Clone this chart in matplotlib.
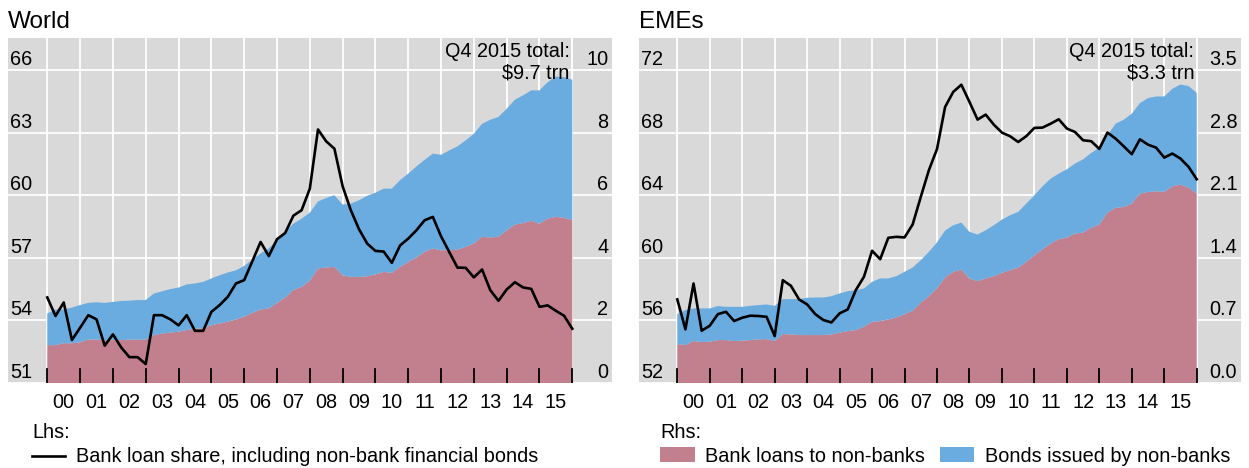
import numpy as np
import pandas as pd
import matplotlib
matplotlib.use('Agg')
import matplotlib.pyplot as plt
from matplotlib.lines import Line2D
from matplotlib.patches import Rectangle

plt.rcParams['font.family'] = ['Liberation Sans', 'DejaVu Sans']

# ---------------- data ----------------
quarters = pd.period_range('1999Q4', '2015Q4', freq='Q')
year_labels = ['00', '01', '02', '03', '04', '05', '06', '07', '08', '09',
               '10', '11', '12', '13', '14', '15']

# World
world_share = [55.10, 54.21, 54.86, 53.06, 53.65, 54.25, 54.05, 52.79, 53.33, 52.71,
               52.24, 52.24, 51.91, 54.25, 54.25, 54.05, 53.76, 54.25, 53.50, 53.50,
               54.41, 54.73, 55.13, 55.77, 55.93, 56.84, 57.76, 57.08, 57.89, 58.19,
               59.02, 59.28, 60.31, 63.15, 62.58, 62.23, 60.43, 59.28, 58.37, 57.68,
               57.33, 57.30, 56.76, 57.59, 57.92, 58.32, 58.80, 58.96, 58.03, 57.28,
               56.53, 56.52, 56.06, 56.44, 55.45, 54.94, 55.48, 55.83, 55.58, 55.51,
               54.65, 54.72, 54.46, 54.22, 53.60]
world_loans = [1.21, 1.21, 1.27, 1.27, 1.30, 1.39, 1.39, 1.37, 1.37, 1.37,
               1.39, 1.38, 1.39, 1.53, 1.58, 1.61, 1.64, 1.69, 1.74, 1.74,
               1.85, 1.90, 1.96, 2.03, 2.12, 2.24, 2.35, 2.38, 2.56, 2.73,
               2.97, 3.07, 3.27, 3.66, 3.69, 3.71, 3.44, 3.39, 3.39, 3.41,
               3.47, 3.55, 3.52, 3.71, 3.87, 4.01, 4.19, 4.30, 4.24, 4.24,
               4.26, 4.35, 4.46, 4.67, 4.65, 4.67, 4.88, 5.06, 5.11, 5.18,
               5.09, 5.25, 5.31, 5.28, 5.20]
world_bonds = [1.01, 1.14, 1.08, 1.14, 1.19, 1.17, 1.19, 1.19, 1.22, 1.25,
               1.24, 1.27, 1.26, 1.33, 1.35, 1.39, 1.41, 1.46, 1.44, 1.49,
               1.49, 1.54, 1.57, 1.57, 1.62, 1.70, 1.79, 1.92, 2.00, 2.10,
               2.12, 2.18, 2.17, 2.14, 2.22, 2.29, 2.26, 2.34, 2.45, 2.57,
               2.61, 2.66, 2.69, 2.77, 2.82, 2.91, 2.94, 3.03, 3.05, 3.19,
               3.30, 3.40, 3.50, 3.61, 3.76, 3.83, 3.88, 3.99, 4.08, 4.17,
               4.26, 4.36, 4.48, 4.49, 4.49]

# EMEs
eme_share = [57.34, 55.43, 58.36, 55.34, 55.66, 56.40, 56.55, 55.96, 56.17, 56.30,
             56.28, 56.23, 55.00, 58.57, 58.21, 57.34, 57.02, 56.40, 56.02, 55.87,
             56.45, 56.70, 57.94, 58.79, 60.45, 59.91, 61.28, 61.34, 61.30, 62.13,
             63.89, 65.60, 66.95, 69.64, 70.60, 71.06, 69.96, 68.83, 69.15, 68.51,
             68.00, 67.77, 67.40, 67.77, 68.30, 68.32, 68.57, 68.85, 68.26, 68.04,
             67.51, 67.45, 66.96, 68.00, 67.62, 67.13, 66.62, 67.57, 67.23, 67.04,
             66.40, 66.66, 66.34, 65.81, 65.02]
eme_loans = [0.435, 0.424, 0.469, 0.458, 0.461, 0.480, 0.480, 0.469, 0.473, 0.480,
             0.488, 0.491, 0.469, 0.547, 0.543, 0.536, 0.536, 0.536, 0.536, 0.543,
             0.562, 0.581, 0.592, 0.629, 0.685, 0.692, 0.711, 0.733, 0.770, 0.808,
             0.897, 0.971, 1.060, 1.180, 1.243, 1.269, 1.169, 1.139, 1.169, 1.195,
             1.232, 1.262, 1.288, 1.355, 1.429, 1.496, 1.559, 1.608, 1.626, 1.671,
             1.682, 1.738, 1.772, 1.905, 1.958, 1.969, 2.006, 2.118, 2.136, 2.144,
             2.136, 2.200, 2.218, 2.185, 2.118]
eme_bonds = [0.335, 0.391, 0.365, 0.376, 0.373, 0.380, 0.372, 0.383, 0.379, 0.383,
             0.383, 0.387, 0.394, 0.391, 0.395, 0.402, 0.417, 0.420, 0.420, 0.428,
             0.439, 0.446, 0.446, 0.428, 0.446, 0.477, 0.458, 0.462, 0.473, 0.483,
             0.476, 0.495, 0.512, 0.525, 0.521, 0.525, 0.521, 0.521, 0.539, 0.569,
             0.595, 0.614, 0.625, 0.651, 0.670, 0.704, 0.726, 0.733, 0.763, 0.782,
             0.819, 0.834, 0.859, 0.864, 0.941, 0.975, 1.005, 1.012, 1.050, 1.060,
             1.068, 1.090, 1.120, 1.135, 1.127]

world_lhs_ticks = [51, 54, 57, 60, 63, 66]
world_rhs_ticks = [0, 2, 4, 6, 8, 10]
eme_lhs_ticks = [52, 56, 60, 64, 68, 72]
eme_rhs_ticks = [0.0, 0.7, 1.4, 2.1, 2.8, 3.5]

# ---------------- style ----------------
PINK = '#C27F8E'
BLUE = '#6AACE0'
GRAY = '#D9D9D9'
FS = 14.3
W, H = 1249, 468

fig = plt.figure(figsize=(W / 100, H / 100), dpi=100)
fig.patch.set_facecolor('white')

xq = [p.year + p.quarter / 4 for p in quarters]


def px_box(x0, x1, y0, y1):
    return [x0 / W, 1 - y1 / H, (x1 - x0) / W, (y1 - y0) / H]


def panel(box, xlim, lhs_lim, rhs_lim, lhs_ticks, rhs_ticks, lhs_lab, rhs_lab,
          share, loans, bonds, total_lines):
    ax = fig.add_axes(box)
    ax.set_facecolor(GRAY)
    for s in ax.spines.values():
        s.set_visible(False)
    ax.stackplot(xq, loans, bonds, colors=[PINK, BLUE], linewidth=0, zorder=1)
    ax.set_xlim(xlim)
    ax.set_ylim(rhs_lim)
    years = list(range(2000, 2017))
    ax.set_xticks(years)
    ax.set_xticklabels([''] * len(years))
    ax.set_xticks([y + 0.5 for y in range(2000, 2016)], minor=True)
    ax.set_xticklabels(year_labels, minor=True)
    ax.tick_params(axis='x', which='both', length=0, pad=7, labelsize=FS)
    ax.set_yticks(rhs_ticks)
    ax.tick_params(axis='y', which='both', length=0, labelleft=False)
    ax.set_axisbelow(True)
    ax.grid(True, which='major', color='white', lw=1.3)
    ax.grid(False, which='minor')

    ax2 = ax.twinx()
    for s in ax2.spines.values():
        s.set_visible(False)
    ax2.set_ylim(lhs_lim)
    ax2.set_xlim(xlim)
    ax2.set_yticks([])
    # black year-boundary ticks at the bottom, above the filled areas
    tick_frac = 14 / (box[3] * H)
    for yr in years:
        ax2.axvline(yr, ymin=0, ymax=tick_frac, color='black', lw=1.3, zorder=3)
    ax2.plot(xq, share, color='black', lw=1.9, zorder=4)

    for v, lab in zip(lhs_ticks, lhs_lab):
        ax2.annotate(lab, xy=(0, v), xycoords=('axes fraction', 'data'),
                     xytext=(2.5, 5), textcoords='offset pixels',
                     ha='left', va='baseline', fontsize=FS, zorder=5)
    for v, lab in zip(rhs_ticks, rhs_lab):
        ax.annotate(lab, xy=(1, v), xycoords=('axes fraction', 'data'),
                    xytext=(-3.5, 5), textcoords='offset pixels',
                    ha='right', va='baseline', fontsize=FS, zorder=5)

    ax2.annotate(total_lines[0], xy=(2016, 1), xycoords=('data', 'axes fraction'),
                 xytext=(-2.5, -18.5), textcoords='offset pixels',
                 ha='right', va='baseline', fontsize=FS, zorder=6)
    ax2.annotate(total_lines[1], xy=(2016, 1), xycoords=('data', 'axes fraction'),
                 xytext=(-2.5, -40.5), textcoords='offset pixels',
                 ha='right', va='baseline', fontsize=FS, zorder=6)
    ax2.set_xlim(xlim)
    ax2.set_ylim(lhs_lim)
    return ax, ax2


# World panel
panel(px_box(8, 611.7, 38.5, 383),
      (2000 - 39.3 / 32.81, 2016 + 39.4 / 32.81),
      (51, 66 + 31.5 / 20.87), (0, 10 + 31.5 / 31.3),
      world_lhs_ticks, world_rhs_ticks,
      [str(v) for v in world_lhs_ticks], [str(v) for v in world_rhs_ticks],
      world_share, world_loans, world_bonds,
      ['Q4 2015 total:', '$9.7 trn'])

# EMEs panel
panel(px_box(639, 1240.7, 38.5, 383),
      (2000 - 38.3 / 32.46, 2016 + 44.0 / 32.46),
      (52, 72 + 31.5 / 15.65), (0, 3.5 + 31.5 / 89.43),
      eme_lhs_ticks, eme_rhs_ticks,
      [str(v) for v in eme_lhs_ticks], [f'{v:.1f}' for v in eme_rhs_ticks],
      eme_share, eme_loans, eme_bonds,
      ['Q4 2015 total:', '$3.3 trn'])

# titles
fig.text(8 / W, 1 - 28.5 / H, 'World', fontsize=17.5, va='baseline', ha='left')
fig.text(639 / W, 1 - 28.5 / H, 'EMEs', fontsize=17.5, va='baseline', ha='left')

# left legend
fig.text(32.5 / W, 1 - 438 / H, 'Lhs:', fontsize=FS, va='baseline', ha='left')
fig.add_artist(Line2D([32 / W, 65 / W], [1 - 456 / H, 1 - 456 / H],
                      transform=fig.transFigure, color='black', lw=1.9))
fig.text(75.5 / W, 1 - 461.5 / H, 'Bank loan share, including non-bank financial bonds',
         fontsize=FS, va='baseline', ha='left')

# right legend
fig.text(660 / W, 1 - 438 / H, 'Rhs:', fontsize=FS, va='baseline', ha='left')
fig.add_artist(Rectangle((660 / W, 1 - 461.7 / H), 35 / W, 15 / H,
                         transform=fig.transFigure, color=PINK, lw=0))
fig.text(705 / W, 1 - 461.5 / H, 'Bank loans to non-banks',
         fontsize=FS, va='baseline', ha='left')
fig.add_artist(Rectangle((940 / W, 1 - 461.7 / H), 34 / W, 15 / H,
                         transform=fig.transFigure, color=BLUE, lw=0))
fig.text(985 / W, 1 - 461.5 / H, 'Bonds issued by non-banks',
         fontsize=FS, va='baseline', ha='left')

fig.savefig('out.png', dpi=100)
